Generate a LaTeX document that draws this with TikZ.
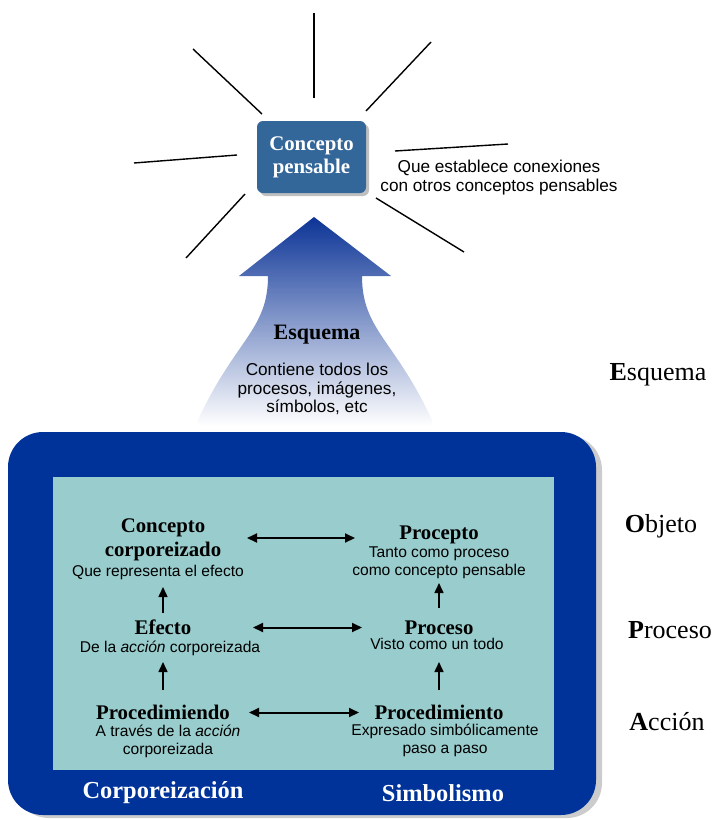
\documentclass[tikz,border=0pt]{standalone}
\usepackage{fontspec}
\setmainfont{Liberation Serif}
\setsansfont{Liberation Sans}
\usetikzlibrary{arrows.meta, calc, shadows}
\definecolor{cpblue}{HTML}{336699}
\definecolor{frameblue}{HTML}{003399}
\definecolor{innerteal}{HTML}{99CCCC}
\definecolor{arrowtop}{HTML}{0C3496}
\definecolor{arrowmid}{HTML}{5576BC}

\begin{document}
\begin{tikzpicture}[x=0.5pt, y=-0.5pt,
  conceptbox/.style={rectangle, fill=cpblue, rounded corners=3pt, minimum width=54.5pt, minimum height=36pt, align=center, text=white, font=\fontsize{10.4}{11.5}\selectfont\bfseries, drop shadow={shadow xshift=1.5pt, shadow yshift=-1.5pt, fill=black!50}},
  title/.style={inner sep=0pt, align=center, font=\fontsize{10.4}{12}\selectfont\bfseries},
  desc/.style={inner sep=0pt, align=center, font=\sffamily\fontsize{7.8}{9}\selectfont},
  note/.style={inner sep=0pt, align=center, font=\sffamily\fontsize{8.6}{9.4}\selectfont},
  sidelabel/.style={inner sep=0pt, font=\fontsize{13}{15}\selectfont},
  frametext/.style={inner sep=0pt, text=white, font=\fontsize{12.2}{14}\selectfont\bfseries},
  ray/.style={line width=0.7pt},
  dblarrow/.style={{Triangle[length=5pt,width=4.5pt]}-{Triangle[length=5pt,width=4.5pt]}, line width=1pt},
  uparrow/.style={-{Triangle[length=5pt,width=4.5pt]}, line width=0.8pt}
]
  \useasboundingbox (0,0) rectangle (714,820);

  % Top concept and its connections
  \node[conceptbox] (cp) at (311.5,157) {Concepto\\pensable};
  \foreach \ax/\ay/\bx/\by in {2.5/-59/2.5/-144, -49.5/-43/-118.5/-108, 54.5/-46/119.5/-115,
      -74.5/-2/-177.5/6, 83.5/-6/196.5/-13, -66.5/37/-125.5/101, 64.5/41/152.5/95}
    \draw[ray] ($(cp)+(\ax,\ay)$) -- ($(cp)+(\bx,\by)$);
  \node[note] (conex) at (499,177.5) {Que establece conexiones\\con otros conceptos pensables};

  % Esquema arrow
  \shade[top color=arrowtop, middle color=arrowmid, bottom color=white]
    (314,217) -- (391,276) -- (362,276)
    .. controls (362,330) and (395,340) .. (432,420)
    .. controls (433,425) and (430,426) .. (425,426) -- (205,426)
    .. controls (200,426) and (197,425) .. (198,420)
    .. controls (235,340) and (268,330) .. (268,276)
    -- (239,276) -- cycle;
  \node[inner sep=0pt, font=\fontsize{11}{13}\selectfont\bfseries] (esq) at (317,335) {Esquema};
  \node[note] (esqtxt) at (317,389) {Contiene todos los\\procesos, imágenes,\\símbolos, etc};

  % Frame
  \fill[frameblue, rounded corners=17.5pt, drop shadow={shadow xshift=3pt, shadow yshift=-1.5pt, fill=black!40}]
    (8,432) rectangle (596,815);
  \fill[innerteal] (53,477) rectangle (554,770);
  \node[frametext] (corp) at (163,793) {Corporeización};
  \node[frametext] (simb) at (443,793) {Simbolismo};

  % Left column
  \node[title] (ccorpT) at (163,540) {Concepto\\corporeizado};
  \node[desc]  (ccorpD) at (158,572) {Que representa el efecto};
  \node[title] (efectoT) at (163,627.5) {Efecto};
  \node[desc]  (efectoD) at (170,648) {De la \textit{acción} corporeizada};
  \node[title] (procdT) at (163,712.5) {Procedimiendo};
  \node[desc]  (procdD) at (168,741) {A través de la \textit{acción}\\corporeizada};

  % Right column
  \node[title] (proceptoT) at (439,535) {Procepto};
  \node[desc]  (proceptoD) at (439,563) {Tanto como proceso\\como concepto pensable};
  \node[title] (procesoT) at (439,627.5) {Proceso};
  \node[desc]  (procesoD) at (437,644) {Visto como un todo};
  \node[title] (procsT) at (439,712.5) {Procedimiento};
  \node[desc]  (procsD) at (445,740) {Expresado simbólicamente\\paso a paso};

  % Side labels
  \node[sidelabel] (lblE) at (658,375) {\textbf{E}squema};
  \node[sidelabel] (lblO) at (661,526) {\textbf{O}bjeto};
  \node[sidelabel] (lblP) at (670,630) {\textbf{P}roceso};
  \node[sidelabel] (lblA) at (667,722) {\textbf{A}cción};

  % Arrows
  \draw[dblarrow, shorten <=42pt, shorten >=42pt] ([yshift=1pt]ccorpT.center) -- ([yshift=1pt]ccorpT.center -| proceptoT.center);
  \draw[dblarrow, shorten <=45pt, shorten >=38.5pt] (efectoT.center) -- (procesoT.center);
  \draw[dblarrow, shorten <=43pt, shorten >=40pt] (procdT.center) -- (procsT.center);
  \draw[uparrow, shorten <=7.25pt, shorten >=7.5pt] (efectoT.center) -- (efectoT.center |- ccorpD.center);
  \draw[uparrow, shorten <=11.25pt, shorten >=7pt] (procdT.center) -- (procdT.center |- efectoD.center);
  \draw[uparrow, shorten <=9.75pt, shorten >=10pt] (procesoT.center) -- (procesoT.center |- proceptoD.center);
  \draw[uparrow, shorten <=11.25pt, shorten >=9pt] (procsT.center) -- (procsT.center |- procesoD.center);
\end{tikzpicture}
\end{document}
